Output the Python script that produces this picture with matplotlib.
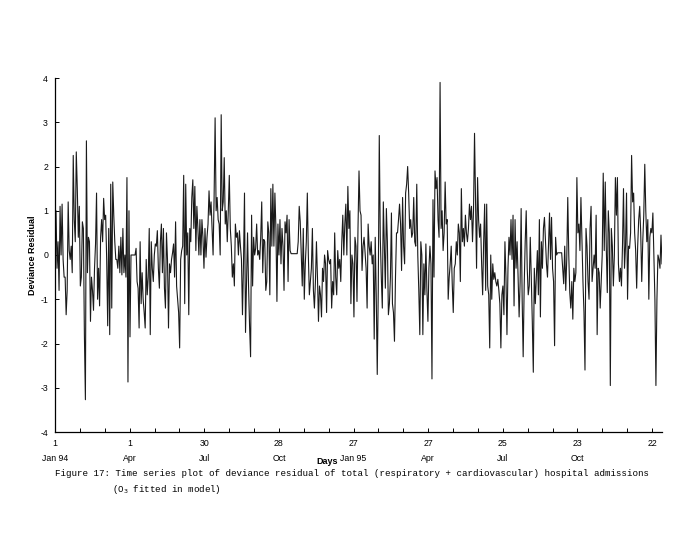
import numpy as np
import matplotlib
matplotlib.use("Agg")
import matplotlib.pyplot as plt

# ==== 数据：每日偏差残差，按时间段分组 ====
resid_jan_apr94 = [0.2, 1.0, -0.3, 0.3, -0.8, 1.1, 0.0, 1.15, -0.1, -0.5, -0.5, -1.35, -0.8,
                   1.2, 0.1, -0.1, 0.2, -0.4, 2.25, 0.8, 0.3, 2.33, 1.5, 0.4, 1.1, -0.7, -0.5,
                   0.75, 0.6, -1.8, -3.27, 2.58, -0.4, 0.4, 0.3, -1.5, -0.5, -0.8, -1.25, -0.3,
                   0.25, 1.4, -1.0, -0.3, -1.15, 0.4, 0.8, 0.3, 1.28, 0.8, 0.9, -0.1, -1.6, 0.6,
                   -1.8, 1.6, -1.2, 1.65, 0.9, 0.3, -0.1, -0.1, -0.3, 0.2, -0.4, 0.4, -0.45, 0.6,
                   -0.4, 0.0, -0.5, 1.75, -2.87, 1.0, -1.85, 0.0, 0.0, 0.0, 0.0, 0.0, 0.15, -0.6, -0.75]
resid_apr_aug94 = [-1.65, 0.3, -1.1, -0.4, -1.0, -1.3, -1.65, -0.1, -0.9, -0.5,
                   0.6, -1.8, 0.3, -0.3, -0.6, 0.0, 0.25, 0.2, 0.55, -0.3,
                   -0.75, 0.3, 0.7, -0.4, 0.6, -0.75, -1.2, 0.5, -0.1, -1.65,
                   -0.2, -0.4, -0.1, 0.05, 0.25, -0.5, 0.75, -0.7, -1.0, -1.3,
                   -2.1, -0.1, 0.1, 0.2, 1.8, -1.1, 1.6, 0.0, 0.5, -1.35,
                   0.6, 0.3, 1.3, 1.7, 0.6, 1.55, 0.1, 1.1, 0.6, 0.0,
                   0.8, 0.0, 0.8, 0.4, -0.3, 0.6, -0.05, 0.4, 0.7, 1.45,
                   0.9, 1.2, 0.6, 0.0, 1.3, 3.1, 1.0, 1.3, 0.8, 0.7,
                   0.0, 3.17, 1.0, 1.2, 2.2, 0.7, 1.0, 0.3, 1.0, 1.8,
                   0.6, 0.2, -0.5, -0.2, -0.7, 0.7, 0.4, 0.5, 0.0]
resid_aug_dec94 = [0.55, 0.2, -0.1, -1.35, -0.2, 1.4, -1.75, -0.6, 0.5, -0.7, -1.6, -2.3, 0.9,
                   -0.7, 0.4, 0.0, 0.15, 0.7, 0.0, 0.1, -0.1, 0.4, 1.2,
                   -0.4, 0.35, 0.3, -0.8, -0.6, 0.75, 0.5, -0.9, 1.5, 0.2,
                   1.6, 0.2, 1.4, 0.6, -1.05, 0.7, 0.0, 0.8, -0.2, 0.6,
                   0.2, -0.8, 0.75, 0.5, 0.9, -0.6, 0.8, 0.1,
                   0.03, 0.03, 0.03, 0.03, 0.03, 0.03, 0.03,
                   0.3, 1.1, 0.75, 0.0, -0.7, 0.6, -1.0, -0.2, 0.3, 1.4,
                   0.0, -0.9, -0.6, -0.3, 0.6, -0.8, -1.2, -0.6, 0.3, -0.5,
                   -1.5, -0.7, -0.9, -1.4, -0.3, -0.6, 0.0, -0.2, -1.3, 0.1,
                   -0.1, -0.2, -0.1, -1.2, -0.6, -0.9, 0.5]
resid_dec94_apr95 = [-0.5, -0.9, 0.1, -0.3, -0.1, -0.6, 0.3, 0.9, 0.0, 0.7,
                     1.15, 0.0, 1.55, 0.6, 1.0, -1.1, 0.0, -0.2, -1.4, 0.4,
                     0.2, -1.05, 0.6, 1.9, 1.0, 0.9, -0.35, 0.2, 0.4, 0.05,
                     -0.3, -1.2, 0.7, 0.2, 0.0, 0.3, -0.2, 0.0, -1.9, 0.4,
                     -0.9, -2.7, -0.8, 2.7, 0.4, -0.5, -1.2, 1.2, 0.2, -0.75,
                     1.05, 0.3, -1.35, -1.1, -0.5, 0.95, -1.1, -1.3, -1.95, -0.5,
                     0.5, 0.5, 0.8, 1.15, 0.7, -0.35, 1.3, 0.2, -0.2, 1.4,
                     1.6, 2.0, 1.4, 0.6, 0.8, 0.4, 0.5, 1.3, 0.3, 0.2,
                     1.6, 0.0, -0.8, -1.8, 0.3, 0.0, -1.8, -0.2, -0.9, 0.25,
                     -0.8, -1.5, -0.3, 0.2, -0.2, -2.8, 1.25, -0.5, 1.9, 1.5]
resid_apr_aug95 = [1.75, 0.8, 0.4, 3.9, 0.6, 1.0, 0.1, 0.5, 1.65, 0.7,
                   0.8, -1.0, -0.5, -0.2, 0.2, -0.65, -1.3, -0.3, -0.2, 0.3,
                   0.0, 0.7, 0.5, -0.6, 1.5, 0.3, 0.6, 0.2, 0.9, 0.5,
                   0.3, 0.6, 1.15, 0.8, 1.1, 0.3, 1.0, 2.75, 1.3, -0.3,
                   1.75, 0.8, 0.4, 0.7, -0.2, -0.9, 0.3, 1.15, -0.8, 1.15,
                   -0.7, -0.9, -2.1, 0.0, -1.0, -0.2, -0.55, -0.4, -0.6, -0.7,
                   -0.55, -0.8, -1.1, -2.1, -0.9, -0.7, -1.35, 0.3, -0.5, -1.8,
                   -0.3, 0.4, 0.0, 0.8, -0.1, 0.9, -1.15, 0.8, -0.3, 0.3,
                   -0.5, -1.4, -0.6, 1.05, -1.0, -2.3, -0.7, 0.3, 1.0, -0.3,
                   -0.9, -0.7, 0.4, -0.5, -1.5, -2.65, -0.3, -1.1, -0.5, 0.1]
resid_aug_dec95 = [-0.9, 0.8, -1.4, 0.3, -0.3, 0.6, 0.85, 0.3, -0.2, -0.5,
                   0.2, 0.95, -0.1, 0.85, -0.3, -0.6, -2.05, 0.4, 0.0, 0.05,
                   0.05, 0.05, 0.05, 0.05,
                   -0.3, -0.65, 0.2, -0.8, -0.1, 1.3, 0.0, -0.85, -1.2, -0.6,
                   -1.45, -0.3, -0.6, -0.4, 1.75, 0.5, 0.7, 0.1, 1.3, 0.3,
                   -0.6, -1.3, -2.6, 0.6, 0.2, -0.6, -1.0, 0.6, 1.1, -0.6,
                   -0.3, 0.0, -0.3, 0.9, -1.8, -0.3, -0.4, -1.2, -0.6, 0.0,
                   1.85, 0.1, 1.65, 0.2, -0.85, 1.0, 0.5, -2.95, 0.6, 0.2,
                   -0.7, 0.0, 1.75, 0.9, 1.75, -0.2, -0.6, -0.3, -0.7, 0.2,
                   1.5, -0.3, 0.2, 1.4, -1.0, 0.2, 0.15, 0.5, 2.25, 1.2,
                   1.4, 0.5, 0.1, -0.75, 0.2, 0.8, 1.1, 0.5, -0.6, 0.3,
                   0.9, 2.05, 1.0, 0.3, 0.8, -1.0, 0.4, 0.6, 0.5, 0.95,
                   0.0, -1.0, -2.95, -1.0, 0.0, -0.1, -0.3, 0.45, -0.2]

tick_days = [0, 90, 180, 270, 360, 450, 540, 630, 720]
day_labels = ['1', '1', '30', '28', '27', '27', '25', '23', '22']
month_labels = ['Jan 94', 'Apr', 'Jul', 'Oct', 'Jan 95', 'Apr', 'Jul', 'Oct', '']
n_days = 732

resid = np.concatenate([resid_jan_apr94, resid_apr_aug94, resid_aug_dec94,
                        resid_dec94_apr95, resid_apr_aug95, resid_aug_dec95])
days = np.linspace(0, n_days, len(resid))

# ==== 作图 ====
fig = plt.figure(figsize=(7, 5.5), dpi=100)
ax = fig.add_axes([55 / 700, 1 - 432 / 550, 607 / 700, 354 / 550])

ax.plot(days, resid, color='#1a1a1a', linewidth=0.8)

ax.set_xlim(0, n_days)
ax.set_ylim(-4, 4)
ax.spines['top'].set_visible(False)
ax.spines['right'].set_visible(False)
for s in ['left', 'bottom']:
    ax.spines[s].set_linewidth(0.9)

ax.set_yticks(range(-4, 5))
ax.set_yticklabels([str(v) for v in range(-4, 5)], fontsize=6.3, family='Liberation Sans')
ax.set_xticks(tick_days)
ax.set_xticklabels([f'{d}\n{m}' for d, m in zip(day_labels, month_labels)],
                   fontsize=6.3, family='Liberation Sans', linespacing=1.9, va='top')
ax.set_xticks(np.arange(0, n_days, 30), minor=True)
ax.tick_params(axis='both', which='both', direction='in', length=3, width=0.7, pad=5)

ax.set_ylabel('Deviance Residual', fontsize=6.5, fontweight='bold', family='Liberation Sans', labelpad=2)
fig.text(338 / 700, 1 - 462 / 550, 'Days', fontsize=6.5, fontweight='bold',
         family='Liberation Sans', ha='right', va='center')

cap = dict(fontsize=6.6, family=['Liberation Mono', 'DejaVu Sans Mono'], ha='left', va='center')
fig.text(55 / 700, 1 - 474 / 550,
         'Figure 17: Time series plot of deviance residual of total (respiratory + cardiovascular) hospital admissions',
         **cap)
fig.text(112 / 700, 1 - 489 / 550, r'(O$_3$ fitted in model)', **cap)

plt.savefig('out.png', dpi=100)
plt.close()
